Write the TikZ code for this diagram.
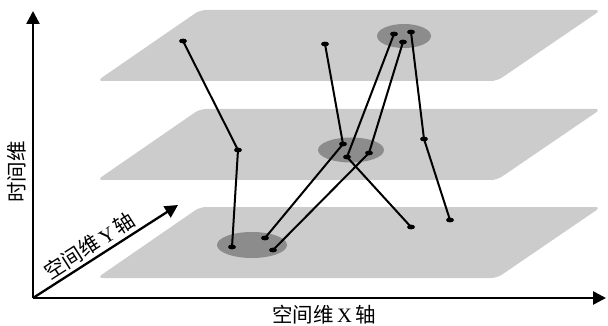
\documentclass[tikz,border=0pt]{standalone}
\usepackage{fontspec}
\setmainfont{Liberation Serif}
\newfontfamily\cjk{Noto Sans CJK SC}
\usetikzlibrary{arrows.meta}

\begin{document}
\begin{tikzpicture}[x=1pt, y=-1pt,
		plane/.style={fill=black!20, rounded corners=6pt},
		spot/.style={fill=black!45},
		link/.style={line width=2pt},
		axis/.style={line width=2.6pt, -{Triangle[length=13pt, width=13pt]}},
		lbl/.style={font=\fontsize{20.5}{21}\selectfont, inner sep=1pt}]
		\useasboundingbox (0,0) rectangle (608,326);
		\def\h{71};
		
		% three time layers
		\foreach \t in {10,109,207}
			\fill[plane] (97,\t+\h) -- (497,\t+\h) -- (601,\t) -- (200,\t) -- cycle;
		
		\fill[spot] (404,36) ellipse [x radius=27pt, y radius=12pt];
		\fill[spot] (351,150) ellipse [x radius=33pt, y radius=12.5pt];
		\fill[spot] (252,245) ellipse [x radius=35pt, y radius=13pt];
		
		% points of the layers
		\coordinate (a1) at (183,41);
		\coordinate (a2) at (325,44);
		\coordinate (a3) at (394,34);
		\coordinate (a4) at (411,32);
		\coordinate (a5) at (403,42);
		\coordinate (b1) at (238,150);
		\coordinate (b2) at (343,144);
		\coordinate (b3) at (347,157);
		\coordinate (b4) at (369,153);
		\coordinate (b5) at (424,139);
		\coordinate (c1) at (232,247);
		\coordinate (c2) at (265,238);
		\coordinate (c3) at (273,250);
		\coordinate (c4) at (411,227);
		\coordinate (c5) at (450,220);
		
		\foreach \u/\v/\w in {a1/b1/c1, a2/b2/c2, a3/b3/c4, a5/b4/c3, a4/b5/c5}
			\draw[link] (\u) -- (\v) -- (\w);
		
		\foreach \r in {a,b,c}
			\foreach \i in {1,...,5}
				\fill (\r\i) ellipse [x radius=4pt, y radius=2.4pt];
		
		% axes
		\coordinate (o) at (33,298);
		\coordinate (ttip) at (33,11);
		\coordinate (xtip) at (606,298);
		\coordinate (ytip) at (178,205);
		
		\draw[axis] (o) -- (ttip);
		\draw[axis] (o) -- (xtip);
		\draw[axis, line width=2.3pt] (o) -- (ytip);
		
		\node[lbl, rotate=90] (tlabel) at (17,172) {\cjk 时间维};
		\node[lbl] (xlabel) at (324,315) {{\cjk 空间维}\,X\,{\cjk 轴}};
		\path (o) -- (ytip) node[lbl, pos=0.44, sloped, above=3pt] (ylabel) {{\cjk 空间维}\,Y\,{\cjk 轴}};
	\end{tikzpicture}
\end{document}
